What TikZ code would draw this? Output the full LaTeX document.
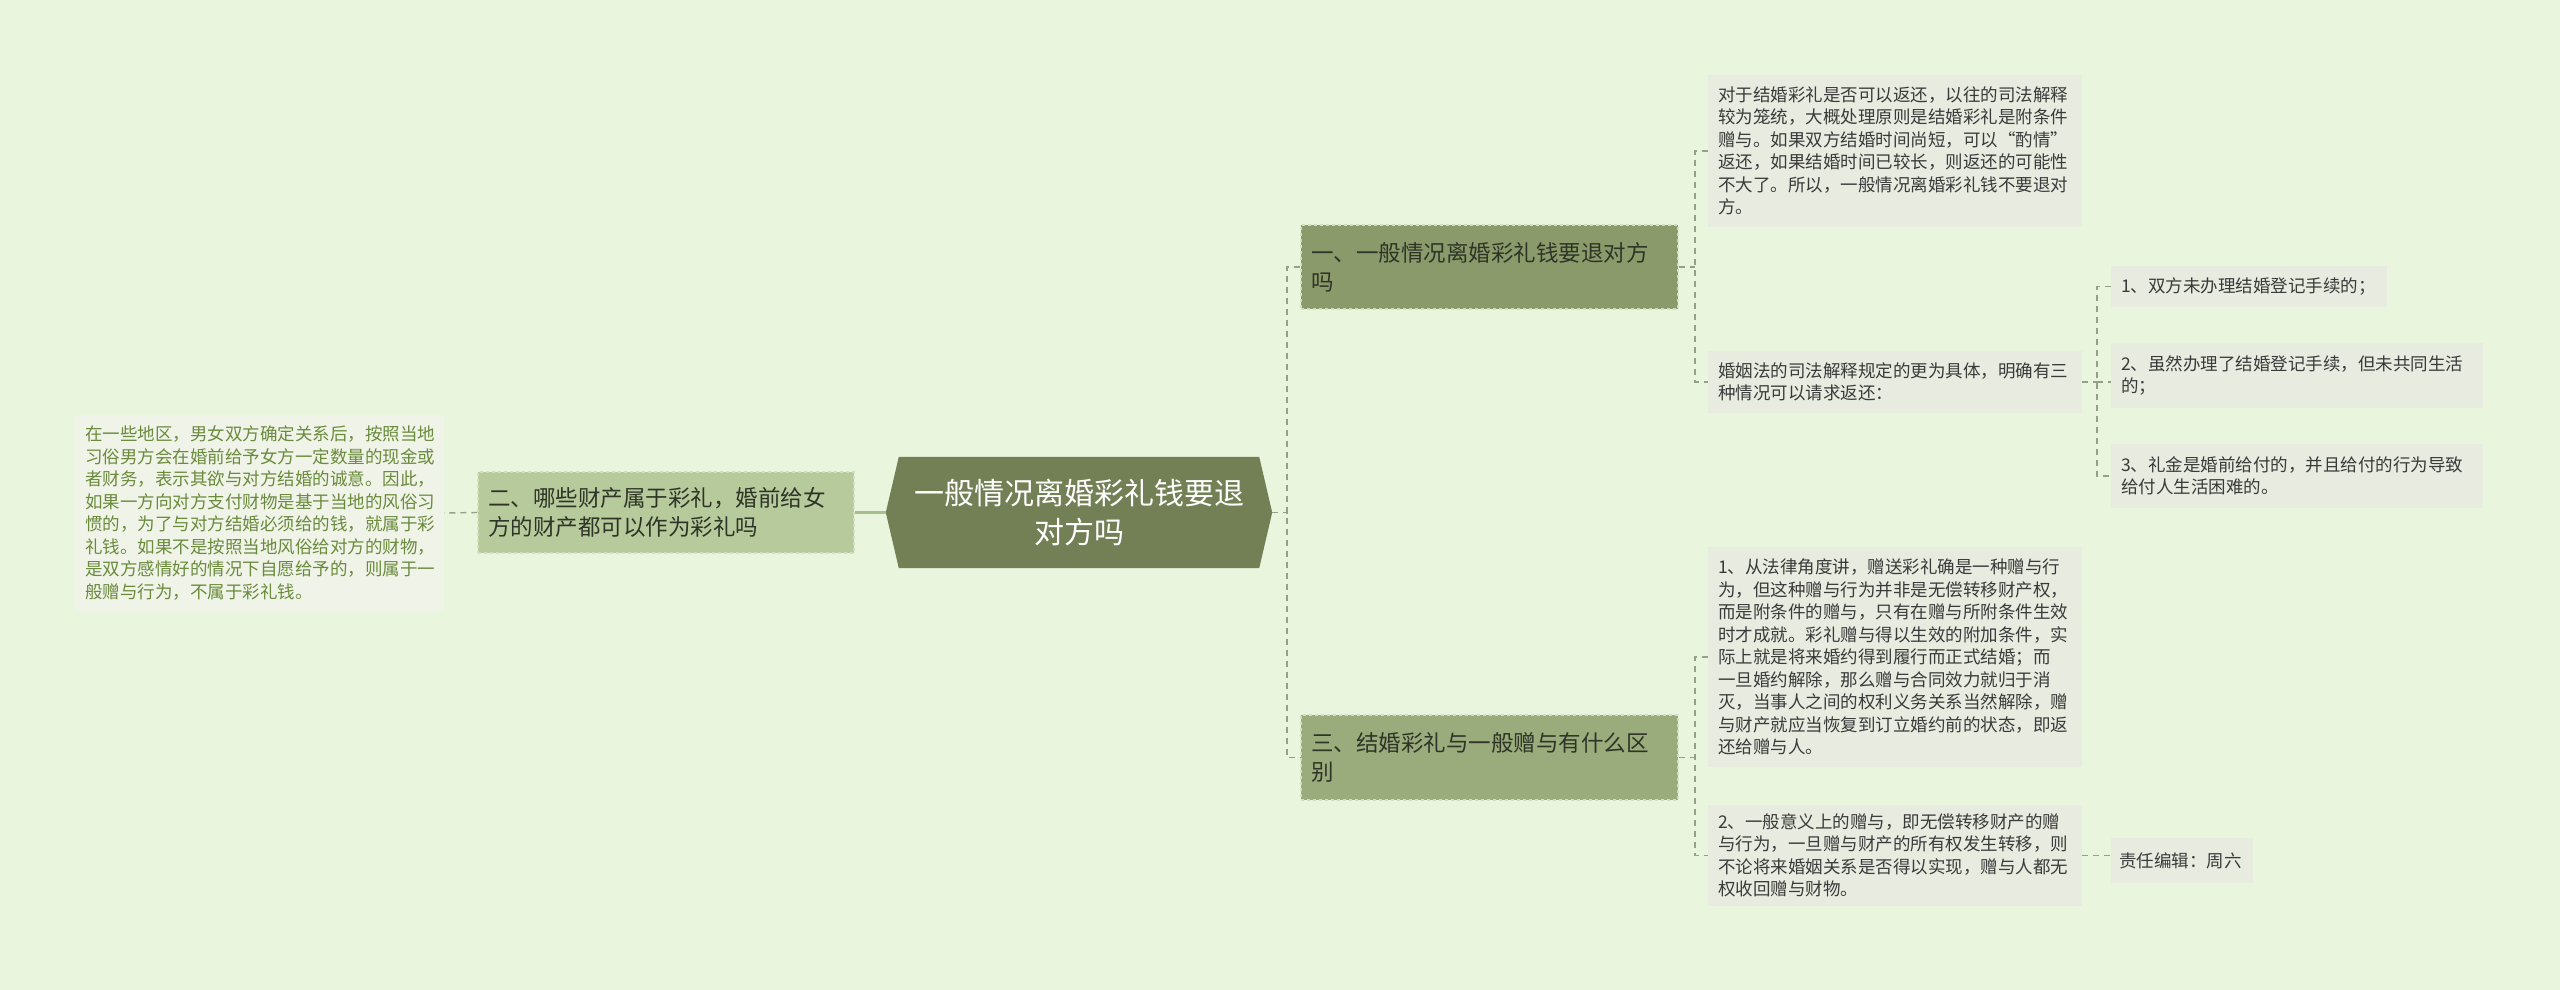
\documentclass[tikz,border=0pt]{standalone}
\usepackage{fontspec}
\setmainfont{Noto Sans CJK SC}
\usetikzlibrary{calc}
\definecolor{bgc}{HTML}{E9F5DC}
\definecolor{cenc}{HTML}{737F55}
\definecolor{n1c}{HTML}{8B9A6A}
\definecolor{n3c}{HTML}{9AAB7C}
\definecolor{n2c}{HTML}{B7CA9C}
\definecolor{leafc}{HTML}{E8EBE0}
\definecolor{lleafc}{HTML}{F0F4E8}
\definecolor{lleaft}{HTML}{6A8A3C}
\definecolor{leaft}{HTML}{3A3A3A}
\definecolor{nodet}{HTML}{2E3527}
\definecolor{linec}{HTML}{96A087}
\definecolor{solidc}{HTML}{A8BE8C}
\definecolor{borderc}{HTML}{D3DDC2}
\pgfdeclarelayer{back}
\pgfsetlayers{back,main}
\tikzset{
  leaf/.style={fill=leafc, text=leaft, font={\fontsize{17.5pt}{22.5pt}\selectfont}, align=left, inner xsep=10pt, inner ysep=0pt, anchor=center},
  lleaf/.style={leaf, fill=lleafc, text=lleaft},
  topic/.style={draw=borderc, dashed, line width=1.3pt, text=nodet, font={\fontsize{22.5pt}{29pt}\selectfont}, align=left, inner xsep=10pt, inner ysep=0pt, anchor=center},
  conn/.style={draw=linec, line width=1.4pt, dash pattern=on 6pt off 5pt},
  solidconn/.style={draw=solidc, line width=2.5pt},
}
\begin{document}
\begin{tikzpicture}[x=1pt, y=-1pt]
\begin{pgfonlayer}{back}
\fill[bgc] (0,0) rectangle (2560,990);
\end{pgfonlayer}
\useasboundingbox (0,0) rectangle (2560,990);

% central
\node (c) [minimum width=360pt, minimum height=111pt, inner sep=0pt, text=white, align=center, font={\fontsize{30pt}{39pt}\selectfont}] at (1079,512.5) {一般情况离婚彩礼钱要退\\对方吗};
\begin{pgfonlayer}{back}
\fill[cenc] (c.north west) -- (c.north east) -- ([xshift=13pt]c.east) -- (c.south east) -- (c.south west) -- ([xshift=-13pt]c.west) -- cycle;
\end{pgfonlayer}
\coordinate (cl) at ([xshift=-13pt]c.west);
\coordinate (cr) at ([xshift=13pt]c.east);

% left side
\node (n2) [topic, fill=n2c, minimum width=376pt, minimum height=81pt, text width=356pt] at (666,512.5) {二、哪些财产属于彩礼，婚前给女\\方的财产都可以作为彩礼吗};
\node (ll) [lleaf, minimum width=369pt, minimum height=196pt, text width=349pt] at (259.5,513) {在一些地区，男女双方确定关系后，按照当地\\习俗男方会在婚前给予女方一定数量的现金或\\者财务，表示其欲与对方结婚的诚意。因此，\\如果一方向对方支付财物是基于当地的风俗习\\惯的，为了与对方结婚必须给的钱，就属于彩\\礼钱。如果不是按照当地风俗给对方的财物，\\是双方感情好的情况下自愿给予的，则属于一\\般赠与行为，不属于彩礼钱。};

% right topics
\node (n1) [topic, fill=n1c, minimum width=377pt, minimum height=84pt, text width=357pt] at (1489.5,267) {一、一般情况离婚彩礼钱要退对方\\吗};
\node (n3) [topic, fill=n3c, minimum width=377pt, minimum height=85pt, text width=357pt] at (1489.5,757.5) {三、结婚彩礼与一般赠与有什么区\\别};

% leaves of n1
\node (la) [leaf, minimum width=374pt, minimum height=152pt, text width=354pt] at (1895,151) {对于结婚彩礼是否可以返还，以往的司法解释\\较为笼统，大概处理原则是结婚彩礼是附条件\\赠与。如果双方结婚时间尚短，可以“酌情”\\返还，如果结婚时间已较长，则返还的可能性\\不大了。所以，一般情况离婚彩礼钱不要退对\\方。};
\node (lb) [leaf, minimum width=374pt, minimum height=62pt, text width=354pt] at (1895,382) {婚姻法的司法解释规定的更为具体，明确有三\\种情况可以请求返还：};
\node (s1) [leaf, minimum width=276pt, minimum height=41pt, text width=256pt] at (2249,286.5) {1、双方未办理结婚登记手续的；};
\node (s2) [leaf, minimum width=372pt, minimum height=65pt, text width=352pt] at (2297,375.5) {2、虽然办理了结婚登记手续，但未共同生活\\的；};
\node (s3) [leaf, minimum width=372pt, minimum height=64pt, text width=352pt] at (2297,476) {3、礼金是婚前给付的，并且给付的行为导致\\给付人生活困难的。};

% leaves of n3
\node (lc) [leaf, minimum width=374pt, minimum height=220pt, text width=354pt] at (1895,657) {1、从法律角度讲，赠送彩礼确是一种赠与行\\为，但这种赠与行为并非是无偿转移财产权，\\而是附条件的赠与，只有在赠与所附条件生效\\时才成就。彩礼赠与得以生效的附加条件，实\\际上就是将来婚约得到履行而正式结婚；而\\一旦婚约解除，那么赠与合同效力就归于消\\灭，当事人之间的权利义务关系当然解除，赠\\与财产就应当恢复到订立婚约前的状态，即返\\还给赠与人。};
\node (ld) [leaf, minimum width=374pt, minimum height=101pt, text width=354pt] at (1895,855.5) {2、一般意义上的赠与，即无偿转移财产的赠\\与行为，一旦赠与财产的所有权发生转移，则\\不论将来婚姻关系是否得以实现，赠与人都无\\权收回赠与财物。};
\node (le) [leaf, minimum width=142pt, minimum height=45pt, text width=126pt, inner xsep=8pt] at (2182,860.5) {责任编辑：周六};

% fork coordinates
\coordinate (f1) at (1287,512.5);
\coordinate (f2) at (1695,267);
\coordinate (f3) at (2097,382);
\coordinate (f4) at (1695,757.5);

% connectors
\draw[solidconn] (cl) -- (n2.east);
\draw[conn] (n2.west) -- (ll.east);
\draw[conn] (cr) -- (f1);
\draw[conn] (n1.west) -| (f1) |- (n3.west);
\draw[conn] (n1.east) -- (f2);
\draw[conn] (la.west) -| (f2) |- (lb.west);
\draw[conn] (lb.east) -- (f3);
\draw[conn] (s1.west) -| (f3) |- (s3.west);
\draw[conn] (f3) -- (f3 -| s2.west);
\draw[conn] (n3.east) -- (f4);
\draw[conn] (lc.west) -| (f4) |- (ld.west);
\draw[conn] (ld.east) -- (ld.east -| le.west);
\end{tikzpicture}
\end{document}
